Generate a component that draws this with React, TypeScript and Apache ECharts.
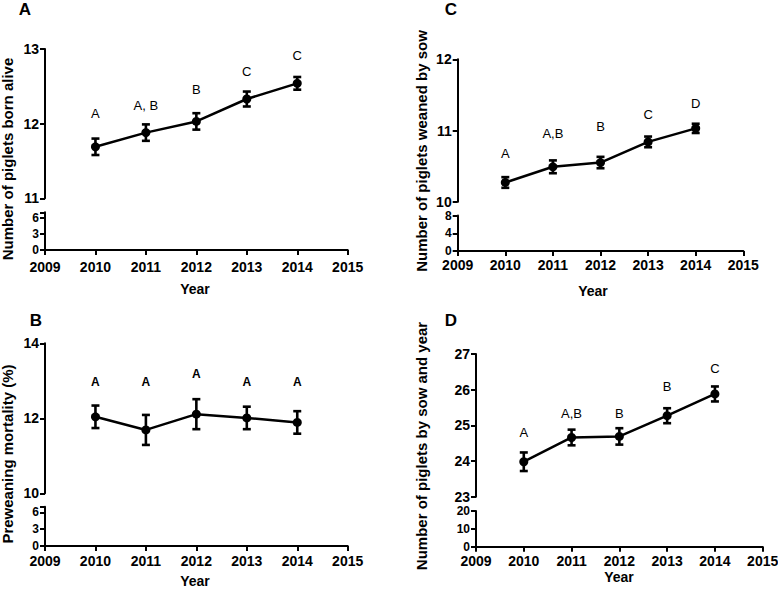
import React, { useEffect, useRef } from "react";
import * as echarts from "echarts";

const years = [2010, 2011, 2012, 2013, 2014];
const xTicks = [2009, 2010, 2011, 2012, 2013, 2014, 2015];

// Panel A: piglets born alive
const aMean = [11.69, 11.88, 12.03, 12.33, 12.54];
const aErr = [0.11, 0.11, 0.11, 0.1, 0.085];
const aLetters = ["A", "A, B", "B", "C", "C"];
const aLetterY = [12.13, 12.24, 12.46, 12.7, 12.91];

// Panel B: preweaning mortality
const bMean = [12.04, 11.69, 12.11, 12.01, 11.89];
const bErr = [0.3, 0.4, 0.4, 0.3, 0.3];
const bLetters = ["A", "A", "A", "A", "A"];
const bLetterY = [12.96, 12.96, 13.18, 12.96, 12.96];

// Panel C: piglets weaned by sow
const cMean = [10.27, 10.49, 10.55, 10.84, 11.03];
const cErr = [0.075, 0.09, 0.08, 0.075, 0.065];
const cLetters = ["A", "A,B", "B", "C", "D"];
const cLetterY = [10.68, 10.96, 11.06, 11.22, 11.38];

// Panel D: piglets by sow and year
const dMean = [23.98, 24.66, 24.69, 25.27, 25.88];
const dErr = [0.26, 0.22, 0.23, 0.21, 0.21];
const dLetters = ["A", "A,B", "B", "B", "C"];
const dLetterY = [24.8, 25.33, 25.33, 26.1, 26.6];

const FONT = "'Liberation Sans', Arial, Helvetica, sans-serif";

type Panel = {
  letter: string;
  title: string;
  mean: number[];
  err: number[];
  letters: string[];
  letterY: number[];
  upper: [number, number, number];
  lower: [number, number, number];
  left: number;
  width: number;
  upTop: number;
  upH: number;
  loTop: number;
  loH: number;
  labelPos: [number, number];
  titlePos: [number, number];
  yearPos: [number, number];
  xLabelMargin: number;
  letterBold: boolean;
  letterSize: number;
};

const panels: Panel[] = [
  {
    letter: "A", title: "Number of piglets born alive",
    mean: aMean, err: aErr, letters: aLetters, letterY: aLetterY,
    upper: [11, 13, 1], lower: [0, 7, 3],
    left: 45, width: 302.7, upTop: 49, upH: 149.3, loTop: 212.3, loH: 37.7,
    labelPos: [25, 9], titlePos: [7, 159], yearPos: [195, 289], xLabelMargin: 10,
    letterBold: false, letterSize: 13,
  },
  {
    letter: "B", title: "Preweaning mortality (%)",
    mean: bMean, err: bErr, letters: bLetters, letterY: bLetterY,
    upper: [10, 14, 2], lower: [0, 7, 3],
    left: 45, width: 302.7, upTop: 343.3, upH: 150, loTop: 506.7, loH: 39.3,
    labelPos: [36, 320], titlePos: [7, 454], yearPos: [195, 581], xLabelMargin: 8,
    letterBold: true, letterSize: 12,
  },
  {
    letter: "C", title: "Number of piglets weaned by sow",
    mean: cMean, err: cErr, letters: cLetters, letterY: cLetterY,
    upper: [10, 12, 1], lower: [0, 8, 4],
    left: 457.7, width: 285.6, upTop: 59.3, upH: 142.4, loTop: 215.5, loH: 35.5,
    labelPos: [451, 9], titlePos: [421, 151], yearPos: [593, 291], xLabelMargin: 7,
    letterBold: false, letterSize: 13,
  },
  {
    letter: "D", title: "Number of piglets by sow and year",
    mean: dMean, err: dErr, letters: dLetters, letterY: dLetterY,
    upper: [23, 27, 1], lower: [0, 20, 10],
    left: 476, width: 286.7, upTop: 354, upH: 142.7, loTop: 511, loH: 35.7,
    labelPos: [451, 320], titlePos: [421, 446], yearPos: [619, 577], xLabelMargin: 7,
    letterBold: false, letterSize: 13,
  },
];

const axisLine = { show: true, lineStyle: { color: "#000", width: 2 } };
const axisTick = { show: true, inside: false, length: 5, lineStyle: { color: "#000", width: 2 } };
const tickLabel = { color: "#000", fontWeight: "bold" as const, fontSize: 14, fontFamily: FONT };

function buildOption() {
  const grid: any[] = [];
  const xAxis: any[] = [];
  const yAxis: any[] = [];
  const series: any[] = [];
  const graphic: any[] = [];

  panels.forEach((p, i) => {
    const gu = i * 2;
    const gl = i * 2 + 1;
    grid.push({ left: p.left, top: p.upTop, width: p.width, height: p.upH, containLabel: false, outerBoundsMode: "none" });
    grid.push({ left: p.left, top: p.loTop, width: p.width, height: p.loH, containLabel: false, outerBoundsMode: "none" });

    xAxis.push({ type: "value", gridIndex: gu, min: 2009, max: 2015, show: false });
    xAxis.push({
      type: "value", gridIndex: gl, min: xTicks[0], max: xTicks[xTicks.length - 1], interval: 1,
      axisLine, axisTick, splitLine: { show: false },
      axisLabel: { ...tickLabel, margin: p.xLabelMargin, formatter: (v: number) => String(v) },
    });

    const [umin, umax, uint] = p.upper;
    yAxis.push({
      type: "value", gridIndex: gu, min: umin, max: umax, interval: uint,
      axisLine, axisTick, splitLine: { show: false },
      axisLabel: { ...tickLabel, margin: 6 },
    });
    const [lmin, lmax, lint] = p.lower;
    yAxis.push({
      type: "value", gridIndex: gl, min: lmin, max: lmax, interval: lint,
      axisLine, axisTick, splitLine: { show: false },
      axisLabel: {
        ...tickLabel, fontSize: 12, lineHeight: 12, margin: 6,
        formatter: (v: number) => (Math.abs(v / lint - Math.round(v / lint)) < 1e-6 ? String(v) : ""),
      },
    });

    series.push({
      type: "line", xAxisIndex: gu, yAxisIndex: gu,
      data: years.map((y, k) => [y, p.mean[k]]),
      symbol: "circle", symbolSize: 9,
      itemStyle: { color: "#000", opacity: 1 },
      lineStyle: { color: "#000", width: 2.5 },
      emphasis: { disabled: true }, silent: true, z: 3,
    });
    series.push({
      type: "custom", xAxisIndex: gu, yAxisIndex: gu,
      data: years.map((y, k) => [y, p.mean[k] - p.err[k], p.mean[k] + p.err[k]]),
      encode: { x: 0, y: [1, 2] },
      silent: true, z: 4,
      renderItem: (params: any, api: any) => {
        const x = api.value(0);
        const lo = api.coord([x, api.value(1)]);
        const hi = api.coord([x, api.value(2)]);
        const hw = 4;
        const st = { stroke: "#000", lineWidth: 2.6 };
        return {
          type: "group",
          children: [
            { type: "line", shape: { x1: lo[0], y1: lo[1], x2: hi[0], y2: hi[1] }, style: st },
            { type: "line", shape: { x1: lo[0] - hw, y1: lo[1], x2: lo[0] + hw, y2: lo[1] }, style: st },
            { type: "line", shape: { x1: hi[0] - hw, y1: hi[1], x2: hi[0] + hw, y2: hi[1] }, style: st },
          ],
        };
      },
    });
    series.push({
      type: "scatter", xAxisIndex: gu, yAxisIndex: gu,
      data: years.map((y, k) => ({ value: [y, p.letterY[k]], name: p.letters[k] })),
      symbolSize: 0, silent: true,
      itemStyle: { opacity: 1, color: "#000" },
      emphasis: { disabled: true },
      label: {
        show: true, position: "inside", formatter: "{b}", color: "#000", opacity: 1,
        textBorderWidth: 0,
        fontFamily: FONT, fontSize: p.letterSize, fontWeight: p.letterBold ? "bold" : "normal",
      },
    });

    graphic.push({
      type: "text", x: p.labelPos[0], y: p.labelPos[1],
      style: { text: p.letter, fill: "#000", font: `bold 17px ${FONT}`, align: "center", verticalAlign: "middle" },
    });
    graphic.push({
      type: "text", x: p.titlePos[0], y: p.titlePos[1], rotation: Math.PI / 2,
      style: { text: p.title, fill: "#000", font: `bold 15px ${FONT}`, align: "center", verticalAlign: "middle" },
    });
    graphic.push({
      type: "text", x: p.yearPos[0], y: p.yearPos[1],
      style: { text: "Year", fill: "#000", font: `bold 14px ${FONT}`, align: "center", verticalAlign: "middle" },
    });
  });

  return {
    animation: false,
    backgroundColor: "#fff",
    textStyle: { fontFamily: FONT },
    grid, xAxis, yAxis, series, graphic,
  };
}

export default function App() {
  const ref = useRef<HTMLDivElement>(null);
  useEffect(() => {
    if (!ref.current) return;
    const chart = echarts.init(ref.current, undefined, { renderer: "svg" });
    chart.setOption(buildOption() as any);
    return () => chart.dispose();
  }, []);
  return (
    <div
      ref={ref}
      style={{ position: "absolute", left: 0, top: 0, width: 778, height: 590, background: "#fff" }}
    />
  );
}
